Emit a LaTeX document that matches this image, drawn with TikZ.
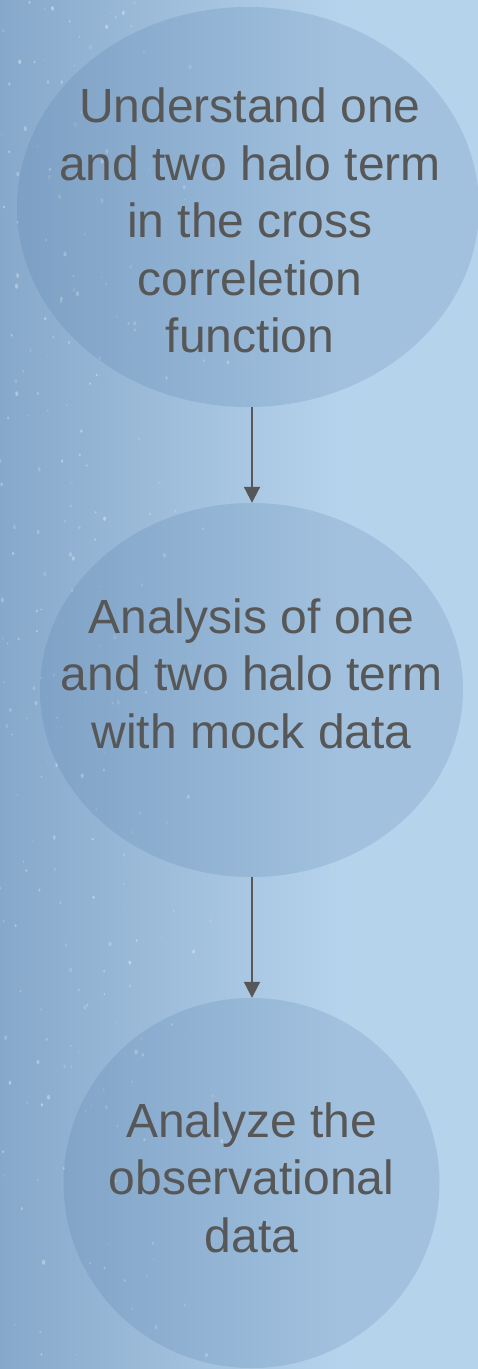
\documentclass[tikz,border=0pt]{standalone}
\usepackage{fontspec}
\setmainfont{Liberation Sans}
\usetikzlibrary{shapes.geometric,arrows.meta}
\definecolor{bgdark}{HTML}{86A8CA}
\definecolor{bglight}{HTML}{B6D3EC}
\definecolor{bubblefill}{HTML}{4A75A5}
\definecolor{inkgray}{HTML}{575757}
\tikzset{
  bubble/.style={ellipse, draw=none, fill=bubblefill, fill opacity=0.19, inner sep=0pt},
  caption/.style={text=inkgray, align=center, inner sep=0pt,
    font=\fontsize{48}{57.5}\selectfont},
  flow/.style={draw=inkgray, line width=2pt, -{Triangle[width=16pt,length=16pt]}}
}
\begin{document}
\begin{tikzpicture}[x=1pt, y=-1pt]
  % page and background sky
  \useasboundingbox (0,0) rectangle (478,1369);
  \fill[bglight] (0,0) rectangle (478,1369);
  \shade[left color=bgdark, right color=bglight] (0,0) rectangle (340,1369);
  % faint specks of starlight on the darker side
  \pgfmathsetseed{11}
  \foreach \i in {1,...,240}{
    \pgfmathsetmacro{\sx}{250*rnd*(0.45+0.55*rnd)}
    \pgfmathsetmacro{\sy}{1369*rnd}
    \pgfmathsetmacro{\so}{0.12+0.28*rnd}
    \pgfmathsetmacro{\sr}{0.6+1.1*rnd}
    \fill[white, opacity=\so] (\sx,\sy) ellipse [x radius=\sr, y radius=1.5*\sr];
  }
  % the three stages
  \node[bubble, minimum width=462pt, minimum height=400pt] (s1) at (248,207) {};
  \node[bubble, minimum width=423pt, minimum height=374pt] (s2) at (251.5,690) {};
  \node[bubble, minimum width=376pt, minimum height=370pt] (s3) at (251.5,1183) {};
  \node[caption] (t1) at (250,220.5) {Understand one\\and two halo term\\in the cross\\correletion\\function};
  \node[caption] (t2) at (251.5,673.5) {Analysis of one\\and two halo term\\with mock data};
  \node[caption] (t3) at (251.5,1177.5) {Analyze the\\observational\\data};
  % connectors
  \draw[flow] (s1.south -| 252,0) -- (s2.north -| 252,0);
  \draw[flow] (s2.south -| 252,0) -- (s3.north -| 252,0);
\end{tikzpicture}
\end{document}
